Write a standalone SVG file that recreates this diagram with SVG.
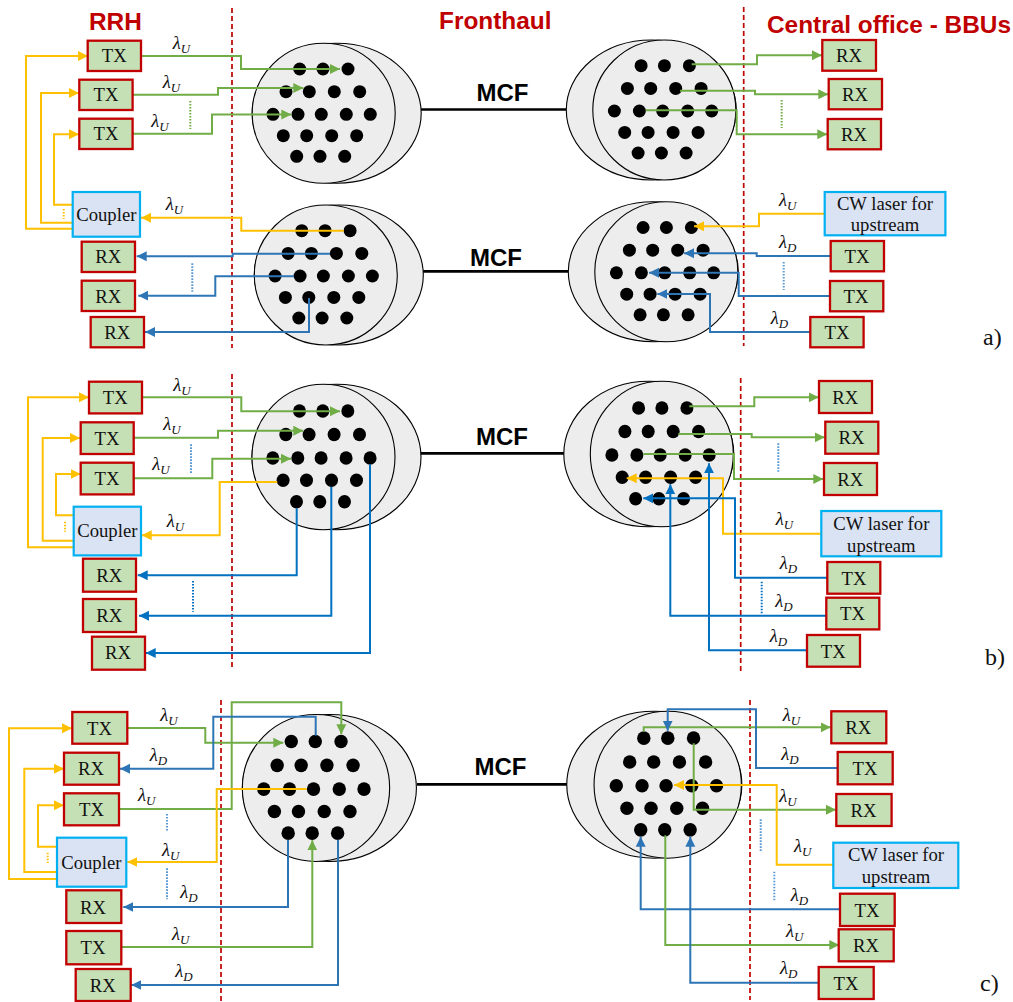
<svg xmlns="http://www.w3.org/2000/svg" width="1013" height="1002" viewBox="0 0 1013 1002">
<style>
text{font-family:"Liberation Serif","Times New Roman",serif;fill:#111}
.h{font-family:"Liberation Sans",Arial,sans-serif;font-weight:700;font-size:24.4px;fill:#c00000}
.m{font-family:"Liberation Sans",Arial,sans-serif;font-weight:700;font-size:24px;fill:#000}
.t{font-size:18.7px;text-anchor:middle}
.tag{font-size:24px}
.lam{font-style:italic;font-size:18.5px}
.sub{font-size:13px}
.box{fill:#c5e0b4;stroke:#c00000;stroke-width:2.3}
.cp{fill:#dae3f3;stroke:#00b0f0;stroke-width:2.2}
.div{stroke:#c00000;stroke-width:1.7;stroke-dasharray:5 3;fill:none}
.mcf{stroke:#000;stroke-width:2.7;fill:none}
.skin{fill:#ededed;stroke:#000;stroke-width:1.1}
#connectors path{fill:none;stroke-width:2}
.g{stroke:#70ad47}.y{stroke:#ffc000}.b{stroke:#2e75b6}.c{stroke:#0070c0}
#connectors .gd,#connectors .yd,#connectors .bd{stroke-width:2;stroke-dasharray:1.6 1.4}
.gd{stroke:#70ad47}.yd{stroke:#ffc000}.bd{stroke:#5b9bd5}
.bk{stroke:#0070c0}
</style>
<defs>
<marker id="ag" markerUnits="userSpaceOnUse" markerWidth="11" markerHeight="11" refX="10" refY="5.5" orient="auto"><path d="M0,0.5L10,5.5L0,10.5Z" fill="#70ad47"/></marker>
<marker id="ay" markerUnits="userSpaceOnUse" markerWidth="11" markerHeight="11" refX="10" refY="5.5" orient="auto"><path d="M0,0.5L10,5.5L0,10.5Z" fill="#ffc000"/></marker>
<marker id="ab" markerUnits="userSpaceOnUse" markerWidth="11" markerHeight="11" refX="10" refY="5.5" orient="auto"><path d="M0,0.5L10,5.5L0,10.5Z" fill="#2e75b6"/></marker>
<marker id="ac" markerUnits="userSpaceOnUse" markerWidth="11" markerHeight="11" refX="10" refY="5.5" orient="auto"><path d="M0,0.5L10,5.5L0,10.5Z" fill="#0070c0"/></marker>
<g id="dots">
<circle cx="-24" cy="-44.3" r="6.5"/><circle cx="-0.7" cy="-44.3" r="6.5"/><circle cx="24.3" cy="-44.3" r="6.5"/>
<circle cx="-37.7" cy="-21.6" r="6.5"/><circle cx="-14.4" cy="-21.6" r="6.5"/><circle cx="10.6" cy="-21.6" r="6.5"/><circle cx="36" cy="-21.6" r="6.5"/>
<circle cx="-50.7" cy="1" r="6.5"/><circle cx="-25.7" cy="1" r="6.5"/><circle cx="-2.4" cy="1" r="6.5"/><circle cx="22.6" cy="1" r="6.5"/><circle cx="46.6" cy="1" r="6.5"/>
<circle cx="-40.4" cy="22.4" r="6.5"/><circle cx="-17" cy="22.4" r="6.5"/><circle cx="8" cy="22.4" r="6.5"/><circle cx="33" cy="22.4" r="6.5"/>
<circle cx="-27" cy="43" r="6.5"/><circle cx="-3.7" cy="43" r="6.5"/><circle cx="21" cy="43" r="6.5"/>
</g>
<g id="fiberL"><ellipse class="skin" cx="13" cy="0" rx="84.5" ry="70" vector-effect="non-scaling-stroke"/><ellipse class="skin" cx="0" cy="0" rx="71.5" ry="70" vector-effect="non-scaling-stroke"/><use href="#dots"/></g>
<g id="fiberR"><ellipse class="skin" cx="-13" cy="0" rx="85" ry="70" vector-effect="non-scaling-stroke"/><ellipse class="skin" cx="0" cy="0" rx="71.5" ry="70" vector-effect="non-scaling-stroke"/><use href="#dots" x="0.8"/></g>
</defs>

<g id="headings">
<text class="h" x="89" y="29.5">RRH</text>
<text class="h" x="439" y="29">Fronthaul</text>
<text class="h" x="767" y="33">Central office - BBUs</text>
</g>
<g id="dividers">
<path class="div" d="M232,8V348M743.7,7V346M232,374V670M740.7,378V673M221,700V1002M750,700V1000"/>
</g>
<g id="trunks">
<path class="mcf" d="M421,109.5H566M423,271.3H568M420,453.3H564M417,784.3H567"/>
<text class="m" x="476.5" y="101">MCF</text><text class="m" x="470" y="265.5">MCF</text><text class="m" x="476" y="445.3">MCF</text><text class="m" x="474.5" y="775.3">MCF</text>
</g>

<g id="fiber-a-l1"><use href="#fiberL" transform="translate(323.7,113.3)"/></g>
<g id="fiber-a-r1"><use href="#fiberR" transform="translate(664.3,110)"/></g>
<g id="fiber-a-l2"><use href="#fiberL" transform="translate(325.8,275)"/></g>
<g id="fiber-a-r2"><use href="#fiberR" transform="translate(666.3,271.8)"/></g>
<g id="fiber-b-l"><use href="#fiberL" transform="translate(323.5,457) scale(1,1.04)"/></g>
<g id="fiber-b-r"><use href="#fiberR" transform="translate(661.8,454) scale(1,1.04)"/></g>
<g id="fiber-c-l"><use href="#fiberL" transform="translate(316,788) scale(1.03,1.05)"/></g>
<g id="fiber-c-r"><use href="#fiberR" transform="translate(667.7,784.7) scale(1.03,1.05)"/></g>

<g id="connectors">
<path class="g" marker-end="url(#ag)" d="M141.5,56H241V69H340"/>
<path class="g" marker-end="url(#ag)" d="M133,94.7H218V88H303.3"/>
<path class="g" marker-end="url(#ag)" d="M133,133.7H212V114.5H291.3"/>
<path class="y" marker-end="url(#ay)" d="M72.7,228.7H26V56H88"/>
<path class="y" marker-end="url(#ay)" d="M72.7,222.7H41V93H79"/>
<path class="y" marker-end="url(#ay)" d="M72.7,204.7H54V134.3H79"/>
<path class="y" marker-end="url(#ay)" d="M343.7,230.7H241.3V217.7H141"/>
<path class="b" marker-end="url(#ab)" d="M330,253.7H232.7V256.3H136.7"/>
<path class="b" marker-end="url(#ab)" d="M294,276.3H215.3V295.7H138.3"/>
<path class="b" marker-end="url(#ab)" d="M309,298V332H145"/>
<path class="gd" d="M190.3,101V129"/><path class="yd" d="M63.7,209V219"/><path class="bd" d="M192.3,263.3V291.7"/>
<path class="g" marker-end="url(#ag)" d="M691.7,64.3H757V55.3H822"/>
<path class="g" marker-end="url(#ag)" d="M680,90.7H755V94.3H828.3"/>
<path class="g" marker-end="url(#ag)" d="M645.7,110.3H736.7V134.3H827.3"/>
<path class="y" marker-end="url(#ay)" d="M824.7,213.7H759V226.3H694"/>
<path class="b" marker-end="url(#ab)" d="M830.7,256H756.7V253.3H684"/>
<path class="b" marker-end="url(#ab)" d="M830,296H738.7V272.7H649"/>
<path class="b" marker-end="url(#ab)" d="M810.3,332H710V294H657.3"/>
<path class="gd" d="M781.7,100V128"/><path class="bd" d="M783.7,262V290"/>
<path class="g" marker-end="url(#ag)" d="M142,397.3H241.3V411.3H340"/>
<path class="g" marker-end="url(#ag)" d="M134,437.7H218V430.7H303.3"/>
<path class="g" marker-end="url(#ag)" d="M134,478.3H212.3V458.7H291"/>
<path class="y" marker-end="url(#ay)" d="M73.7,547.3H28V397.3H89"/>
<path class="y" marker-end="url(#ay)" d="M73.7,540.7H42.7V438H80"/>
<path class="y" marker-end="url(#ay)" d="M73.7,515.3H56V474H80.7"/>
<path class="y" marker-end="url(#ay)" d="M277.3,482H219.7V535.3H141.7"/>
<path class="c" marker-end="url(#ac)" d="M296.7,508.3V575.3H137.7"/>
<path class="c" marker-end="url(#ac)" d="M331.3,487V615.7H139"/>
<path class="c" marker-end="url(#ac)" d="M370,464.3V653H145.7"/>
<path class="bd" d="M191,444.3V473.3"/><path class="yd" d="M65,521.7V531.7"/><path class="bd" d="M193,581V611.7" style="stroke:#0070c0"/>
<path class="g" marker-end="url(#ag)" d="M689.3,406.3H754.3V397.3H818.7"/>
<path class="g" marker-end="url(#ag)" d="M678.3,434H751.7V437.3H824.7"/>
<path class="g" marker-end="url(#ag)" d="M643.3,454H734V479H823.3"/>
<path class="y" marker-end="url(#ay)" d="M821.3,533.7H723V478.3H626.7"/>
<path class="c" marker-end="url(#ac)" d="M827.3,577.7H735V498.3H643.3"/>
<path class="c" marker-end="url(#ac)" d="M826.3,615.7H670.3V484.3"/>
<path class="c" marker-end="url(#ac)" d="M807,650.3H709V463.3"/>
<path class="bd" d="M778.3,443.3V471.7"/><path class="bd" d="M761.7,581.7V613.3" style="stroke:#0070c0"/>
<path class="g" marker-end="url(#ag)" d="M127.3,728H205.3V742.7H283.3"/>
<path class="g" marker-end="url(#ag)" d="M119.3,809H231.7V702.3H341.3V734.3"/>
<path class="b" marker-end="url(#ab)" d="M315.7,735.7V716.7H213.3V768.7H120"/>
<path class="y" marker-end="url(#ay)" d="M57,879H9V728.3H72"/>
<path class="y" marker-end="url(#ay)" d="M57,872H24.3V768.7H64"/>
<path class="y" marker-end="url(#ay)" d="M57,846.7H38V805.3H64"/>
<path class="y" marker-end="url(#ay)" d="M306.7,789H216.7V862H127.3"/>
<path class="b" marker-end="url(#ab)" d="M288,839.7V907H123.3"/>
<path class="g" marker-end="url(#ag)" d="M121.3,947H312.3V840.3"/>
<path class="b" marker-end="url(#ab)" d="M338,839.7V985H131.3"/>
<path class="yd" d="M47.7,852.7V863"/><path class="bd" d="M167,814V831.7"/><path class="bd" d="M167,868.3V899.3"/>
<path class="g" marker-end="url(#ag)" d="M643.7,731.7V727.3H830.7"/>
<path class="b" marker-end="url(#ab)" d="M837.7,768H756V709.3H667.7V730.7"/>
<path class="g" marker-end="url(#ag)" d="M693.7,743.3V809.7H836"/>
<path class="y" marker-end="url(#ay)" d="M833.3,864.7H776.7V785H674"/>
<path class="b" marker-end="url(#ab)" d="M840,909.3H640.7V836.7"/>
<path class="g" marker-end="url(#ag)" d="M665.3,835.3V945H839.3"/>
<path class="b" marker-end="url(#ab)" d="M818.7,982.7H690.3V836.7"/>
<path class="bd" d="M760.7,819.3V851"/><path class="bd" d="M774.3,871.7V901.7"/>
</g>

<g id="nodes-a">
<g id="a-tx1"><rect class="box" x="87.7" y="40.7" width="53.3" height="30.3"/><text class="t" x="114.3" y="62">TX</text></g>
<g id="a-tx2"><rect class="box" x="79.3" y="79.7" width="53.3" height="30.3"/><text class="t" x="106" y="101">TX</text></g>
<g id="a-tx3"><rect class="box" x="79.3" y="118.7" width="53.3" height="30.3"/><text class="t" x="106" y="140">TX</text></g>
<g id="a-coupler"><rect class="cp" x="72.7" y="192" width="67.3" height="44.7"/><text class="t" x="106.3" y="221">Coupler</text></g>
<g id="a-rx1"><rect class="box" x="81.7" y="241.7" width="53.3" height="30.3"/><text class="t" x="108.3" y="263">RX</text></g>
<g id="a-rx2"><rect class="box" x="81.7" y="280.7" width="53.3" height="30.3"/><text class="t" x="108.3" y="303">RX</text></g>
<g id="a-rx3"><rect class="box" x="90.7" y="317" width="53.3" height="30.3"/><text class="t" x="117.3" y="339">RX</text></g>
<g id="a-crx1"><rect class="box" x="822.3" y="40" width="53.7" height="30.7"/><text class="t" x="849" y="62">RX</text></g>
<g id="a-crx2"><rect class="box" x="828.7" y="79" width="53.3" height="30.3"/><text class="t" x="855" y="101">RX</text></g>
<g id="a-crx3"><rect class="box" x="827.7" y="119" width="53.3" height="30.3"/><text class="t" x="854" y="141">RX</text></g>
<g id="a-cw"><rect class="cp" x="824.7" y="192" width="120.7" height="43.3"/><text class="t" x="885" y="210">CW laser for</text><text class="t" x="885" y="231">upstream</text></g>
<g id="a-ctx1"><rect class="box" x="830.7" y="241" width="53.3" height="30.3"/><text class="t" x="857" y="263">TX</text></g>
<g id="a-ctx2"><rect class="box" x="830" y="281" width="53.3" height="30.3"/><text class="t" x="856" y="303">TX</text></g>
<g id="a-ctx3"><rect class="box" x="810.3" y="317" width="53.3" height="30.3"/><text class="t" x="837" y="339">TX</text></g>
</g>
<g id="nodes-b">
<g id="b-tx1"><rect class="box" x="89" y="381.7" width="53" height="31.7"/><text class="t" x="115.3" y="404">TX</text></g>
<g id="b-tx2"><rect class="box" x="80.7" y="422.3" width="53" height="31.7"/><text class="t" x="107" y="445">TX</text></g>
<g id="b-tx3"><rect class="box" x="80.7" y="462.7" width="53" height="31.7"/><text class="t" x="107" y="485">TX</text></g>
<g id="b-coupler"><rect class="cp" x="73.7" y="506.7" width="67.3" height="48.7"/><text class="t" x="107.3" y="537">Coupler</text></g>
<g id="b-rx1"><rect class="box" x="83" y="558.7" width="53" height="33"/><text class="t" x="109.3" y="582">RX</text></g>
<g id="b-rx2"><rect class="box" x="83" y="599" width="53" height="33"/><text class="t" x="109.3" y="622">RX</text></g>
<g id="b-rx3"><rect class="box" x="92" y="636.7" width="53" height="33"/><text class="t" x="118" y="659">RX</text></g>
<g id="b-crx1"><rect class="box" x="819" y="381" width="53" height="32"/><text class="t" x="845.3" y="404">RX</text></g>
<g id="b-crx2"><rect class="box" x="825.3" y="421.7" width="53" height="32"/><text class="t" x="851.5" y="444">RX</text></g>
<g id="b-crx3"><rect class="box" x="824" y="463" width="53" height="32"/><text class="t" x="850.3" y="486">RX</text></g>
<g id="b-cw"><rect class="cp" x="821.3" y="511" width="120" height="45.3"/><text class="t" x="881.3" y="530">CW laser for</text><text class="t" x="881.3" y="552">upstream</text></g>
<g id="b-ctx1"><rect class="box" x="827.3" y="562" width="53" height="31.7"/><text class="t" x="854" y="585">TX</text></g>
<g id="b-ctx2"><rect class="box" x="826.3" y="597.7" width="53" height="31.7"/><text class="t" x="852.5" y="620">TX</text></g>
<g id="b-ctx3"><rect class="box" x="807" y="635" width="53" height="31.7"/><text class="t" x="833.3" y="658">TX</text></g>
</g>
<g id="nodes-c">
<g id="c-tx1"><rect class="box" x="72.3" y="712" width="55" height="31.7"/><text class="t" x="99.5" y="735">TX</text></g>
<g id="c-rx1"><rect class="box" x="64" y="752.7" width="55" height="32"/><text class="t" x="91" y="775">RX</text></g>
<g id="c-tx2"><rect class="box" x="64" y="793.3" width="55" height="32"/><text class="t" x="91.5" y="816">TX</text></g>
<g id="c-coupler"><rect class="cp" x="57" y="837.7" width="69.3" height="49"/><text class="t" x="91.3" y="869">Coupler</text></g>
<g id="c-rx2"><rect class="box" x="66.3" y="890.3" width="55" height="32.7"/><text class="t" x="93" y="914">RX</text></g>
<g id="c-tx3"><rect class="box" x="66.3" y="931" width="55" height="33.3"/><text class="t" x="93" y="954">TX</text></g>
<g id="c-rx3"><rect class="box" x="75.7" y="969" width="55" height="32"/><text class="t" x="102.7" y="992">RX</text></g>
<g id="c-crx1"><rect class="box" x="831.3" y="711.3" width="55" height="32"/><text class="t" x="858.3" y="734">RX</text></g>
<g id="c-ctx1"><rect class="box" x="837.7" y="752" width="55" height="32.3"/><text class="t" x="865" y="775">TX</text></g>
<g id="c-crx2"><rect class="box" x="836.3" y="794" width="55.3" height="32"/><text class="t" x="863.5" y="817">RX</text></g>
<g id="c-cw"><rect class="cp" x="833.3" y="842.7" width="125" height="45.3"/><text class="t" x="896" y="861">CW laser for</text><text class="t" x="896" y="883">upstream</text></g>
<g id="c-ctx2"><rect class="box" x="840" y="893.7" width="54.7" height="32.3"/><text class="t" x="867" y="917">TX</text></g>
<g id="c-crx3"><rect class="box" x="838.7" y="929.3" width="55" height="32"/><text class="t" x="866" y="952">RX</text></g>
<g id="c-ctx3"><rect class="box" x="818.7" y="967" width="55" height="32"/><text class="t" x="846" y="990">TX</text></g>
</g>

<g id="labels">
<text class="lam" x="172.7" y="49">λ<tspan class="sub" dy="4">U</tspan></text>
<text class="lam" x="162.7" y="88">λ<tspan class="sub" dy="4">U</tspan></text>
<text class="lam" x="151.3" y="126.7">λ<tspan class="sub" dy="4">U</tspan></text>
<text class="lam" x="165.7" y="210">λ<tspan class="sub" dy="4">U</tspan></text>
<text class="lam" x="779" y="206">λ<tspan class="sub" dy="4">U</tspan></text>
<text class="lam" x="779" y="248">λ<tspan class="sub" dy="4">D</tspan></text>
<text class="lam" x="770.7" y="324">λ<tspan class="sub" dy="4">D</tspan></text>
<text class="lam" x="173.3" y="391">λ<tspan class="sub" dy="4">U</tspan></text>
<text class="lam" x="163.3" y="430">λ<tspan class="sub" dy="4">U</tspan></text>
<text class="lam" x="152.3" y="470">λ<tspan class="sub" dy="4">U</tspan></text>
<text class="lam" x="166.7" y="526.7">λ<tspan class="sub" dy="4">U</tspan></text>
<text class="lam" x="775.7" y="525">λ<tspan class="sub" dy="4">U</tspan></text>
<text class="lam" x="779.7" y="569">λ<tspan class="sub" dy="4">D</tspan></text>
<text class="lam" x="775.3" y="607.3">λ<tspan class="sub" dy="4">D</tspan></text>
<text class="lam" x="769.7" y="642.3">λ<tspan class="sub" dy="4">D</tspan></text>
<text class="lam" x="160.3" y="720.7">λ<tspan class="sub" dy="4">U</tspan></text>
<text class="lam" x="149.7" y="760.7">λ<tspan class="sub" dy="4">D</tspan></text>
<text class="lam" x="138" y="801">λ<tspan class="sub" dy="4">U</tspan></text>
<text class="lam" x="162" y="855.7">λ<tspan class="sub" dy="4">U</tspan></text>
<text class="lam" x="180.3" y="898.3">λ<tspan class="sub" dy="4">D</tspan></text>
<text class="lam" x="172" y="940">λ<tspan class="sub" dy="4">U</tspan></text>
<text class="lam" x="175.3" y="976.7">λ<tspan class="sub" dy="4">D</tspan></text>
<text class="lam" x="782.7" y="720.7">λ<tspan class="sub" dy="4">U</tspan></text>
<text class="lam" x="781.3" y="760">λ<tspan class="sub" dy="4">D</tspan></text>
<text class="lam" x="779.3" y="801.7">λ<tspan class="sub" dy="4">U</tspan></text>
<text class="lam" x="794" y="851.7">λ<tspan class="sub" dy="4">U</tspan></text>
<text class="lam" x="790.7" y="900.7">λ<tspan class="sub" dy="4">D</tspan></text>
<text class="lam" x="786" y="937.3">λ<tspan class="sub" dy="4">U</tspan></text>
<text class="lam" x="780" y="974">λ<tspan class="sub" dy="4">D</tspan></text>
<text class="tag" x="983" y="345">a)</text>
<text class="tag" x="985" y="665">b)</text>
<text class="tag" x="980" y="991">c)</text>
</g>
</svg>
